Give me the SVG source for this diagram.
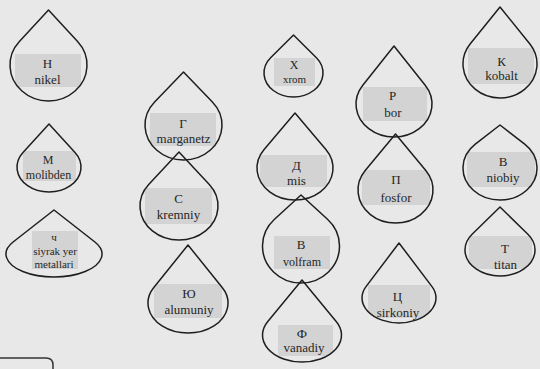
<svg xmlns="http://www.w3.org/2000/svg" xmlns:xlink="http://www.w3.org/1999/xlink" width="540" height="369" viewBox="0 0 540 369">
<style>
.drop{fill:none;stroke:#1e1e1e;stroke-width:1.5;stroke-linejoin:round}
.band{fill:#d3d3d3}
.lbl text{font-family:'Liberation Serif','DejaVu Serif','Noto Serif','Times New Roman',serif;font-size:13px;fill:#262626;text-anchor:middle}
.lbl .s{font-size:11px}
.lbl .m{font-size:12px}
</style>
<defs>
<path id="p1" d="M48.5,10 L77.6,41.4 A38.5,36 0 1 1 19.4,41.4 Z"/>
<path id="p2" d="M49,124 L75,152.5 A32,25 0 1 1 23,152.5 Z"/>
<path id="p3" d="M54,210 L94.9,242 A48,23 0 1 1 13.1,242 Z"/>
<path id="p4" d="M183.5,72 L212.4,101.9 A38.5,35 0 1 1 154.6,101.9 Z"/>
<path id="p5" d="M179,152 L209.3,184.6 A39,34 0 1 1 148.7,184.6 Z"/>
<path id="p6" d="M188,245 L222.2,287.5 A40,30 0 1 1 153.8,287.5 Z"/>
<path id="p7" d="M293.5,35 L316.4,57.8 A29.5,24 0 1 1 270.6,57.8 Z"/>
<path id="p8" d="M295,113 L325.9,149.4 A38,32 0 1 1 264.1,149.4 Z"/>
<path id="p9" d="M301,195 L327.5,219.2 A38.5,37 0 1 1 274.5,219.2 Z"/>
<path id="p10" d="M302,280 L336.4,321.8 A39.5,27 0 1 1 267.6,321.8 Z"/>
<path id="p11" d="M394,46 L425.2,85.2 A38,33 0 1 1 362.8,85.2 Z"/>
<path id="p12" d="M395.5,134 L425.8,170.6 A37.5,33 0 1 1 365.2,170.6 Z"/>
<path id="p13" d="M399,243 L432,286.6 A37,25 0 1 1 366,286.6 Z"/>
<path id="p14" d="M500,7 L529.7,43.7 A37,34 0 1 1 470.3,43.7 Z"/>
<path id="p15" d="M500,125 L524.7,144.2 A37,32 0 1 1 475.3,144.2 Z"/>
<path id="p16" d="M500,207 L527.9,234.3 A35,26 0 1 1 472.1,234.3 Z"/>
<clipPath id="c1"><use xlink:href="#p1"/></clipPath>
<clipPath id="c2"><use xlink:href="#p2"/></clipPath>
<clipPath id="c3"><use xlink:href="#p3"/></clipPath>
<clipPath id="c4"><use xlink:href="#p4"/></clipPath>
<clipPath id="c5"><use xlink:href="#p5"/></clipPath>
<clipPath id="c6"><use xlink:href="#p6"/></clipPath>
<clipPath id="c7"><use xlink:href="#p7"/></clipPath>
<clipPath id="c8"><use xlink:href="#p8"/></clipPath>
<clipPath id="c9"><use xlink:href="#p9"/></clipPath>
<clipPath id="c10"><use xlink:href="#p10"/></clipPath>
<clipPath id="c11"><use xlink:href="#p11"/></clipPath>
<clipPath id="c12"><use xlink:href="#p12"/></clipPath>
<clipPath id="c13"><use xlink:href="#p13"/></clipPath>
<clipPath id="c14"><use xlink:href="#p14"/></clipPath>
<clipPath id="c15"><use xlink:href="#p15"/></clipPath>
<clipPath id="c16"><use xlink:href="#p16"/></clipPath>
</defs>
<rect width="540" height="369" fill="#e8e8e8"/>
<g id="connectors"></g>
<g class="lbl" font-family="Liberation Serif, DejaVu Serif, serif">
<g id="node-nikel"><rect class="band" x="15" y="54" width="66" height="33" clip-path="url(#c1)"/><use xlink:href="#p1" class="drop"/><text x="47.5" y="67.5">Н</text><text x="47.5" y="83.5">nikel</text></g>
<g id="node-molibden"><rect class="band" x="23" y="151" width="53" height="30" clip-path="url(#c2)"/><use xlink:href="#p2" class="drop"/><text x="48" y="164" class="m">М</text><text x="48.5" y="179" class="m">molibden</text></g>
<g id="node-siyrak"><rect class="band" x="32" y="231" width="46" height="38" clip-path="url(#c3)"/><use xlink:href="#p3" class="drop"/><text x="54" y="241" class="s">ч</text><text x="55" y="255" class="s">siyrak yer</text><text x="54" y="268" class="s">metallari</text></g>
<g id="node-marganetz"><rect class="band" x="150" y="113" width="66" height="33" clip-path="url(#c4)"/><use xlink:href="#p4" class="drop"/><text x="183" y="127.5">Г</text><text x="183.5" y="143">marganetz</text></g>
<g id="node-kremniy"><rect class="band" x="145" y="188" width="67" height="36" clip-path="url(#c5)"/><use xlink:href="#p5" class="drop"/><text x="178.5" y="202.5">С</text><text x="178.5" y="219">kremniy</text></g>
<g id="node-alumuniy"><rect class="band" x="154" y="284" width="68" height="34" clip-path="url(#c6)"/><use xlink:href="#p6" class="drop"/><text x="189" y="297.5">Ю</text><text x="189" y="314">alumuniy</text></g>
<g id="node-xrom"><rect class="band" x="274" y="58" width="41" height="28" clip-path="url(#c7)"/><use xlink:href="#p7" class="drop"/><text x="294" y="68.5" class="m">Х</text><text x="294.5" y="83" class="s">xrom</text></g>
<g id="node-mis"><rect class="band" x="260" y="155" width="67" height="32" clip-path="url(#c8)"/><use xlink:href="#p8" class="drop"/><text x="296.5" y="170">Д</text><text x="296.5" y="185">mis</text></g>
<g id="node-volfram"><rect class="band" x="274" y="236" width="56" height="33" clip-path="url(#c9)"/><use xlink:href="#p9" class="drop"/><text x="301" y="249">В</text><text x="302" y="265.5" class="m">volfram</text></g>
<g id="node-vanadiy"><rect class="band" x="278" y="325" width="55" height="31" clip-path="url(#c10)"/><use xlink:href="#p10" class="drop"/><text x="302" y="337.5">Ф</text><text x="304" y="352">vanadiy</text></g>
<g id="node-bor"><rect class="band" x="363" y="87" width="64" height="34" clip-path="url(#c11)"/><use xlink:href="#p11" class="drop"/><text x="392.5" y="100">Р</text><text x="393" y="117">bor</text></g>
<g id="node-fosfor"><rect class="band" x="362" y="170" width="68" height="35" clip-path="url(#c12)"/><use xlink:href="#p12" class="drop"/><text x="396" y="184">П</text><text x="396" y="202">fosfor</text></g>
<g id="node-sirkoniy"><rect class="band" x="368" y="285" width="62" height="33" clip-path="url(#c13)"/><use xlink:href="#p13" class="drop"/><text x="397.5" y="300.5">Ц</text><text x="398" y="317">sirkoniy</text></g>
<g id="node-kobalt"><rect class="band" x="468" y="48" width="66" height="36" clip-path="url(#c14)"/><use xlink:href="#p14" class="drop"/><text x="501.5" y="66">К</text><text x="501.5" y="80">kobalt</text></g>
<g id="node-niobiy"><rect class="band" x="467" y="152" width="68" height="35" clip-path="url(#c15)"/><use xlink:href="#p15" class="drop"/><text x="503" y="166">В</text><text x="503" y="182">niobiy</text></g>
<g id="node-titan"><rect class="band" x="469" y="236" width="63" height="33" clip-path="url(#c16)"/><use xlink:href="#p16" class="drop"/><text x="505" y="253">Т</text><text x="505.5" y="269">titan</text></g>
</g>
<path d="M0,358 H46 Q53,358 53,365 V369" fill="none" stroke="#333" stroke-width="1.5"/>
</svg>
